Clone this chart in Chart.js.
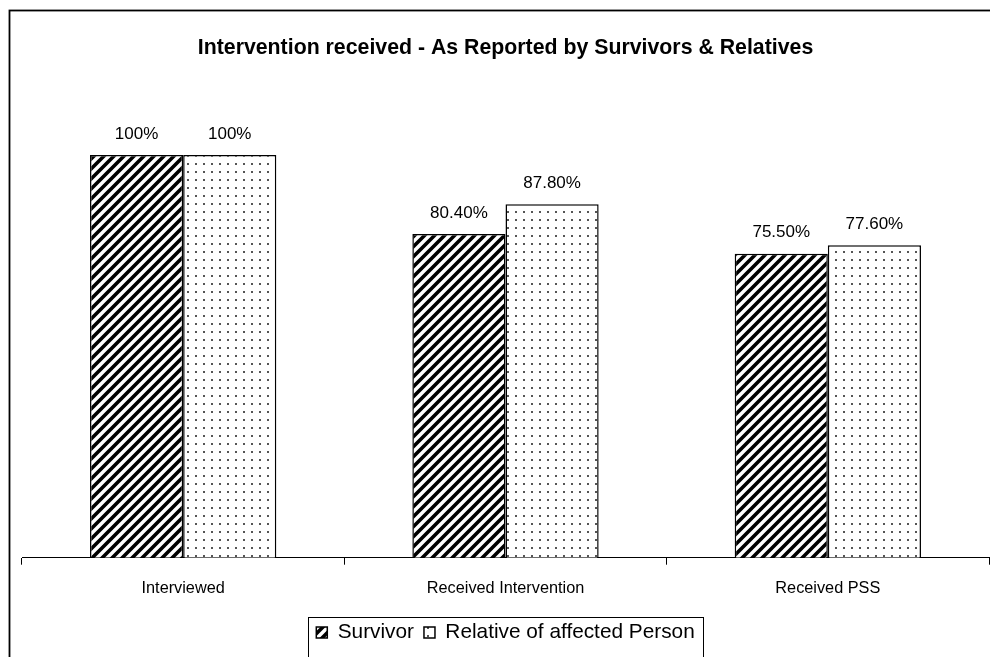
<!DOCTYPE html>
<html>
<head>
<meta charset="utf-8">
<script src="https://cdn.jsdelivr.net/npm/chart.js@4.4.1/dist/chart.umd.min.js"></script>
<style>
  html, body { margin: 0; padding: 0; background: #fff; }
  #wrap { width: 990px; height: 657px; }
</style>
</head>
<body>
<div id="wrap"><canvas id="c" width="990" height="657"></canvas></div>
<script>
const categories = ['Interviewed', 'Received Intervention', 'Received PSS'];
const survivorValues = [100, 80.4, 75.5];
const relativeValues = [100, 87.8, 77.6];
const survivorLabels = ['100%', '80.40%', '75.50%'];
const relativeLabels = ['100%', '87.80%', '77.60%'];
const seriesNames = ['Survivor', 'Relative of affected Person'];
const chartTitle = 'Intervention received - As Reported by Survivors & Relatives';

const FONT = '"Liberation Sans", Arial, sans-serif';

function stripePattern() {
  const s = 10;
  const c = document.createElement('canvas');
  c.width = s; c.height = s;
  const x = c.getContext('2d');
  x.fillStyle = '#fff'; x.fillRect(0, 0, s, s);
  x.strokeStyle = '#000'; x.lineWidth = 3.6; x.lineCap = 'square';
  x.beginPath();
  x.moveTo(-2, 2); x.lineTo(2, -2);
  x.moveTo(0, s); x.lineTo(s, 0);
  x.moveTo(s - 2, s + 2); x.lineTo(s + 2, s - 2);
  x.stroke();
  return x.createPattern(c, 'repeat');
}
function dotPattern() {
  const s = 8;
  const c = document.createElement('canvas');
  c.width = s; c.height = s;
  const x = c.getContext('2d');
  x.fillStyle = '#fff'; x.fillRect(0, 0, s, s);
  x.fillStyle = '#555'; x.fillRect(3, 3, 2, 2);
  return x.createPattern(c, 'repeat');
}

const framePlugin = {
  id: 'frame',
  beforeDraw(chart) {
    const ctx = chart.ctx;
    ctx.save();
    ctx.fillStyle = '#fff';
    ctx.fillRect(0, 0, chart.width, chart.height);
    ctx.strokeStyle = '#000';
    ctx.lineWidth = 1.8;
    ctx.strokeRect(9.5, 10.5, chart.width + 20, chart.height + 20);
    ctx.restore();
  },
  afterDraw(chart) {
    const lg = chart.legend;
    if (!lg || !lg.legendHitBoxes || !lg.legendHitBoxes.length) return;
    const hb = lg.legendHitBoxes;
    const left = Math.min(...hb.map(h => h.left));
    const right = Math.max(...hb.map(h => h.left + h.width));
    const top = Math.min(...hb.map(h => h.top));
    const ctx = chart.ctx;
    ctx.save();
    ctx.strokeStyle = '#000';
    ctx.lineWidth = 1;
    ctx.strokeRect(Math.round(left - 8) + 0.5, Math.round(top - 5) + 0.5, Math.round(right - left + 17), 80);
    ctx.restore();
  }
};

const valueLabelPlugin = {
  id: 'valueLabels',
  afterDatasetsDraw(chart) {
    const ctx = chart.ctx;
    const allLabels = [survivorLabels, relativeLabels];
    ctx.save();
    ctx.fillStyle = '#000';
    ctx.font = '17px ' + FONT;
    ctx.textAlign = 'center';
    ctx.textBaseline = 'middle';
    chart.data.datasets.forEach((ds, di) => {
      const meta = chart.getDatasetMeta(di);
      meta.data.forEach((el, i) => {
        ctx.fillText(allLabels[di][i], el.x, el.y - 21);
      });
    });
    ctx.restore();
  }
};

new Chart(document.getElementById('c'), {
  type: 'bar',
  data: {
    labels: categories,
    datasets: [
      {
        label: seriesNames[0],
        data: survivorValues,
        backgroundColor: stripePattern(),
        borderColor: '#000',
        borderWidth: 1.5
      },
      {
        label: seriesNames[1],
        data: relativeValues,
        backgroundColor: dotPattern(),
        borderColor: '#000',
        borderWidth: 1.5
      }
    ]
  },
  options: {
    responsive: false,
    animation: false,
    devicePixelRatio: 1,
    layout: { padding: { left: 22, right: 1, top: 0, bottom: 4 } },
    datasets: { bar: { categoryPercentage: 0.578, barPercentage: 1.0 } },
    scales: {
      x: {
        grid: { display: true, drawOnChartArea: false, drawTicks: true, tickLength: 7, color: '#000', lineWidth: 1, offset: true },
        border: { display: true, color: '#000', width: 1 },
        ticks: { color: '#000', font: { family: FONT, size: 16.3 }, padding: 14, maxRotation: 0 },
        afterFit(scale) { scale.height = 54.5; }
      },
      y: {
        display: false,
        min: 0,
        max: 120
      }
    },
    plugins: {
      title: {
        display: true,
        text: chartTitle,
        color: '#000',
        font: { family: FONT, size: 21.3, weight: 'bold' },
        padding: { top: 35.2, bottom: 13.8 }
      },
      legend: {
        display: true,
        position: 'bottom',
        labels: {
          color: '#000',
          font: { family: FONT, size: 20.8 },
          boxWidth: 11,
          boxHeight: 11,
          padding: 10
        }
      },
      tooltip: { enabled: false }
    }
  },
  plugins: [framePlugin, valueLabelPlugin]
});
</script>
</body>
</html>
